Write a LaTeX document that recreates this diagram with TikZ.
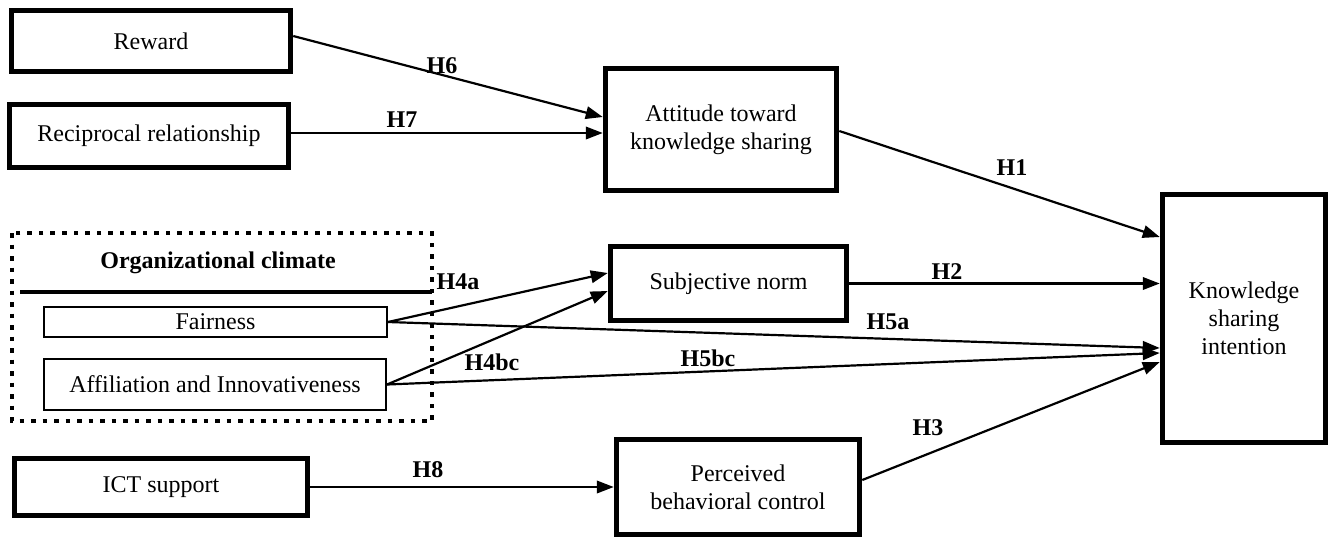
\documentclass[tikz,border=0pt]{standalone}
\usepackage{fontspec}
\setmainfont{Liberation Serif}
\usetikzlibrary{arrows.meta,calc}
\begin{document}
\begin{tikzpicture}[x=1pt,y=-1pt,
  every node/.style={font=\fontsize{24}{28}\selectfont},
  thickbox/.style={draw,line width=5.5pt,align=center,inner sep=0pt},
  thinbox/.style={draw,line width=2pt,align=center,inner sep=0pt},
  arr/.style={line width=2.2pt,-{Triangle[length=17pt,width=12.5pt]}},
  hlab/.style={font=\fontsize{24}{28}\selectfont\bfseries,inner sep=0pt}]
\useasboundingbox (0,0) rectangle (1334,539);
% boxes
\node[thickbox,minimum width=279pt,minimum height=61pt] (reward) at (151,41) {Reward};
\node[thickbox,minimum width=279pt,minimum height=63pt] (recip) at (149,136) {Reciprocal relationship};
\node[thickbox,minimum width=231pt,minimum height=122pt] (att) at (721,129.5) {Attitude toward\\knowledge sharing};
\node[thickbox,minimum width=236pt,minimum height=74pt] (sn) at (728.5,283.5) {Subjective norm};
\node[thickbox,minimum width=243pt,minimum height=95pt] (pbc) at (738,487) {Perceived\\behavioral control};
\node[thickbox,minimum width=293pt,minimum height=57pt] (ict) at (161,487) {ICT support};
\node[thickbox,minimum width=163pt,minimum height=248pt] (ksi) at (1244,318.5) {Knowledge\\sharing\\intention};
\node[thinbox,minimum width=343pt,minimum height=30pt] (fair) at (215.5,322) {Fairness};
\node[thinbox,minimum width=342pt,minimum height=51pt] (aff) at (215,384.5) {Affiliation and Innovativeness};
% organizational climate group
\draw[line width=4.5pt,dash pattern=on 4.5pt off 7pt] (12,233) rectangle (432,421);
\node[hlab] (oclab) at (218,263) {Organizational climate};
\draw[line width=4pt] (20,292) -- (432,292);
% connectors
\draw[arr] ([yshift=5pt]reward.east) -- ([yshift=12.5pt]att.west);
\draw[arr] ([yshift=3pt]recip.east) -- ([yshift=3pt]recip.east -| att.west);
\draw[arr] ([yshift=-1.5pt]att.east) -- ([yshift=81.5pt]ksi.west);
\draw[arr] (sn.east) -- (sn.east -| ksi.west);
\draw[arr] (fair.east) -- ([yshift=10.5pt]sn.west);
\draw[arr] (aff.east) -- ([yshift=-7.5pt]sn.west);
\draw[arr] (fair.east) -- ([yshift=-29.5pt]ksi.west);
\draw[arr] (aff.east) -- ([yshift=-34.5pt]ksi.west);
\draw[arr] ([yshift=7pt]pbc.east) -- ([yshift=-43.5pt]ksi.west);
\draw[arr] (ict.east) -- (pbc.west);
% labels
\node[hlab] (h6) at (442,66) {H6};
\node[hlab] (h7) at (402,120) {H7};
\node[hlab] (h1) at (1012,168) {H1};
\node[hlab] (h2) at (947,272) {H2};
\node[hlab] (h4a) at (458,282) {H4a};
\node[hlab] (h5a) at (888,322) {H5a};
\node[hlab] (h4bc) at (492,362) {H4bc};
\node[hlab] (h5bc) at (708,358) {H5bc};
\node[hlab] (h3) at (928,428) {H3};
\node[hlab] (h8) at (428,470) {H8};
\end{tikzpicture}
\end{document}
